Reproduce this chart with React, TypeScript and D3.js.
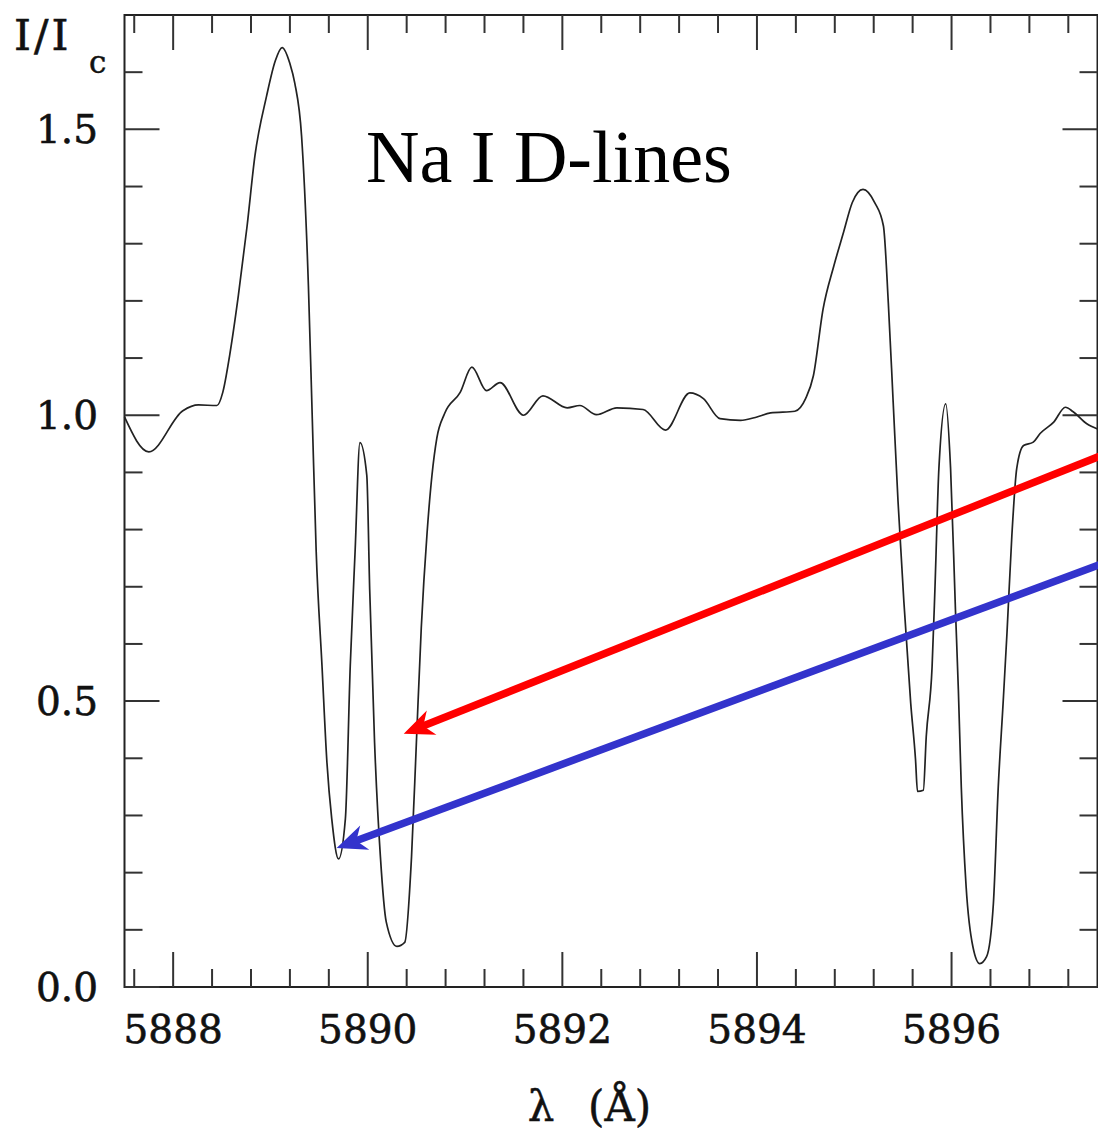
import React from "react";
import * as d3 from "d3";

// ---- data ----
const wavelength: number[] = [
  5887.5, 5887.75, 5888.1, 5888.26, 5888.45, 5888.51, 5888.58, 5888.67, 5888.76, 5888.84,
  5888.96, 5889.05, 5889.12, 5889.2, 5889.25, 5889.32, 5889.39, 5889.43, 5889.47, 5889.53,
  5889.58, 5889.63, 5889.7, 5889.77, 5889.82, 5889.87, 5889.92, 5889.99, 5890.02, 5890.07,
  5890.13, 5890.19, 5890.3, 5890.38, 5890.45, 5890.5, 5890.55, 5890.61, 5890.66, 5890.71,
  5890.79, 5890.95, 5891.07, 5891.22, 5891.36, 5891.6, 5891.8, 5892.05, 5892.18, 5892.35,
  5892.56, 5892.83, 5893.06, 5893.31, 5893.45, 5893.62, 5893.83, 5894.0, 5894.14, 5894.39,
  5894.5, 5894.58, 5894.68, 5894.79, 5894.89, 5894.98, 5895.09, 5895.21, 5895.3, 5895.35,
  5895.4, 5895.45, 5895.51, 5895.58, 5895.63, 5895.65, 5895.71, 5895.74, 5895.8, 5895.83,
  5895.87, 5895.94, 5895.99, 5896.04, 5896.07, 5896.1, 5896.15, 5896.22, 5896.29, 5896.36,
  5896.43, 5896.48, 5896.53, 5896.57, 5896.62, 5896.67, 5896.74, 5896.84, 5896.91, 5897.05,
  5897.17, 5897.25, 5897.39, 5897.5,
];
const intensity: number[] = [
  0.997, 0.936, 1.008, 1.018, 1.017, 1.04, 1.104, 1.209, 1.331, 1.453,
  1.558, 1.62, 1.643, 1.615, 1.581, 1.488, 1.227, 0.994, 0.762, 0.561,
  0.394, 0.294, 0.224, 0.294, 0.561, 0.762, 0.952, 0.895, 0.695, 0.428,
  0.228, 0.114, 0.071, 0.078, 0.228, 0.428, 0.628, 0.795, 0.895, 0.96,
  1.003, 1.04, 1.084, 1.043, 1.057, 1.0, 1.034, 1.013, 1.017, 1.001,
  1.013, 1.01, 0.974, 1.039, 1.029, 0.994, 0.991, 0.997, 1.004, 1.007,
  1.029, 1.069, 1.186, 1.261, 1.32, 1.372, 1.395, 1.372, 1.331, 1.197,
  1.023, 0.849, 0.674, 0.497, 0.397, 0.342, 0.344, 0.438, 0.56, 0.7,
  0.907, 1.02, 0.907, 0.66, 0.52, 0.35, 0.175, 0.07, 0.041, 0.053,
  0.146, 0.35, 0.497, 0.62, 0.79, 0.907, 0.947, 0.953, 0.968, 0.988,
  1.014, 1.006, 0.985, 0.976,
];

const xMajorTicks: number[] = [5888, 5890, 5892, 5894, 5896];
const xTickLabels: string[] = ["5888", "5890", "5892", "5894", "5896"];
const yMajorTicks: number[] = [0, 0.5, 1.0, 1.5];
const yTickLabels: string[] = ["0.0", "0.5", "1.0", "1.5"];

const titleText = "Na I D-lines";

// arrows: [tail wavelength, tail intensity, tip wavelength, tip intensity]
const redArrow: number[] = [5897.62, 0.935, 5890.37, 0.443];
const blueArrow: number[] = [5897.62, 0.745, 5889.68, 0.243];

// ---- layout ----
const W = 1098;
const H = 1131;
const L = 124.5;
const R = 1097.5;
const T = 15;
const B = 987;

export default function App() {
  const x = d3.scaleLinear().domain([5887.5, 5897.5]).range([L, R]);
  const y = d3.scaleLinear().domain([0, 1.7]).range([B, T]);

  const pts: [number, number][] = wavelength.map((w, i) => [w, intensity[i]]);
  const line = d3
    .line<[number, number]>()
    .x((d) => x(d[0]))
    .y((d) => y(d[1]))
    .curve(d3.curveMonotoneX);

  const xMinor = d3.range(5887.6, 5897.5, 0.4).filter(
    (v) => !xMajorTicks.some((m) => Math.abs(m - v) < 1e-6)
  );
  const yMinor = d3.range(0.1, 1.7, 0.1).filter(
    (v) => !yMajorTicks.some((m) => Math.abs(m - v) < 1e-6)
  );

  const tickColor = "#333";
  const majorLen = 35;
  const minorLen = 18;

  const arrow = (a: number[], color: string, key: string) => {
    const x1 = x(a[0]);
    const y1 = y(a[1]);
    const x2 = x(a[2]);
    const y2 = y(a[3]);
    const ang = Math.atan2(y2 - y1, x2 - x1);
    const hl = 30;
    const hw = 13;
    const c = Math.cos(ang);
    const s = Math.sin(ang);
    const bx = x2 - hl * c;
    const by = y2 - hl * s;
    const px = -s;
    const py = c;
    const head = `M${x2},${y2}L${bx + hw * px},${by + hw * py}L${bx + 0.3 * hl * c},${by + 0.3 * hl * s}L${bx - hw * px},${by - hw * py}Z`;
    return (
      <g key={key}>
        <line x1={x1} y1={y1} x2={bx + 12 * c} y2={by + 12 * s} stroke={color} strokeWidth={7.5} />
        <path d={head} fill={color} />
      </g>
    );
  };

  return (
    <svg
      width={W}
      height={H}
      viewBox={`0 0 ${W} ${H}`}
      style={{ position: "absolute", left: 0, top: 0, background: "#fff" }}
    >
      <rect x={0} y={0} width={W} height={H} fill="#fff" />
      {/* frame */}
      <rect x={L} y={T} width={R - L} height={B - T} fill="none" stroke="#222" strokeWidth={2} />
      {/* x ticks bottom & top */}
      {xMajorTicks.map((v) => (
        <g key={"xM" + v}>
          <line x1={x(v)} x2={x(v)} y1={B} y2={B - majorLen} stroke={tickColor} strokeWidth={2} />
          <line x1={x(v)} x2={x(v)} y1={T} y2={T + majorLen} stroke={tickColor} strokeWidth={2} />
        </g>
      ))}
      {xMinor.map((v) => (
        <g key={"xm" + v}>
          <line x1={x(v)} x2={x(v)} y1={B} y2={B - minorLen} stroke={tickColor} strokeWidth={2} />
          <line x1={x(v)} x2={x(v)} y1={T} y2={T + minorLen} stroke={tickColor} strokeWidth={2} />
        </g>
      ))}
      {/* y ticks left & right */}
      {yMajorTicks.map((v) => (
        <g key={"yM" + v}>
          <line x1={L} x2={L + majorLen} y1={y(v)} y2={y(v)} stroke={tickColor} strokeWidth={2} />
          <line x1={R} x2={R - majorLen} y1={y(v)} y2={y(v)} stroke={tickColor} strokeWidth={2} />
        </g>
      ))}
      {yMinor.map((v) => (
        <g key={"ym" + v}>
          <line x1={L} x2={L + minorLen} y1={y(v)} y2={y(v)} stroke={tickColor} strokeWidth={2} />
          <line x1={R} x2={R - minorLen} y1={y(v)} y2={y(v)} stroke={tickColor} strokeWidth={2} />
        </g>
      ))}
      {/* tick labels */}
      {xMajorTicks.map((v, i) => (
        <text
          key={"xl" + v}
          x={x(v)}
          y={1043}
          textAnchor="middle"
          fontFamily="'DejaVu Serif', serif"
          fontSize={39}
          fill="#111"
          stroke="#111"
          strokeWidth={0.6}
        >
          {xTickLabels[i]}
        </text>
      ))}
      {yMajorTicks.map((v, i) => (
        <text
          key={"yl" + v}
          x={98}
          y={y(v) + 14}
          textAnchor="end"
          fontFamily="'DejaVu Serif', serif"
          fontSize={39}
          fill="#111"
          stroke="#111"
          strokeWidth={0.6}
        >
          {yTickLabels[i]}
        </text>
      ))}
      {/* axis titles */}
      <text x={14} y={50} fontFamily="'DejaVu Serif', serif" fontSize={43} fill="#111" stroke="#111" strokeWidth={0.6} letterSpacing={3}>
        I/I
      </text>
      <text x={89} y={73} fontFamily="'DejaVu Serif', serif" fontSize={31} fill="#111" stroke="#111" strokeWidth={0.5}>
        c
      </text>
      <text x={541} y={1121} textAnchor="middle" fontFamily="'DejaVu Serif', serif" fontSize={42} fill="#111" stroke="#111" strokeWidth={0.5}>
        λ
      </text>
      <text x={588} y={1121} fontFamily="'DejaVu Serif', serif" fontSize={42} fill="#111" stroke="#111" strokeWidth={0.5}>
        (Å)
      </text>
      {/* spectrum */}
      <path d={line(pts) || ""} fill="none" stroke="#222" strokeWidth={1.7} />
      {/* title */}
      <text x={366} y={182} fontFamily="'Liberation Serif', 'Times New Roman', serif" fontSize={74} fill="#000">
        {titleText}
      </text>
      {/* arrows */}
      {arrow(redArrow, "#ff0000", "red")}
      {arrow(blueArrow, "#3333cc", "blue")}
    </svg>
  );
}
